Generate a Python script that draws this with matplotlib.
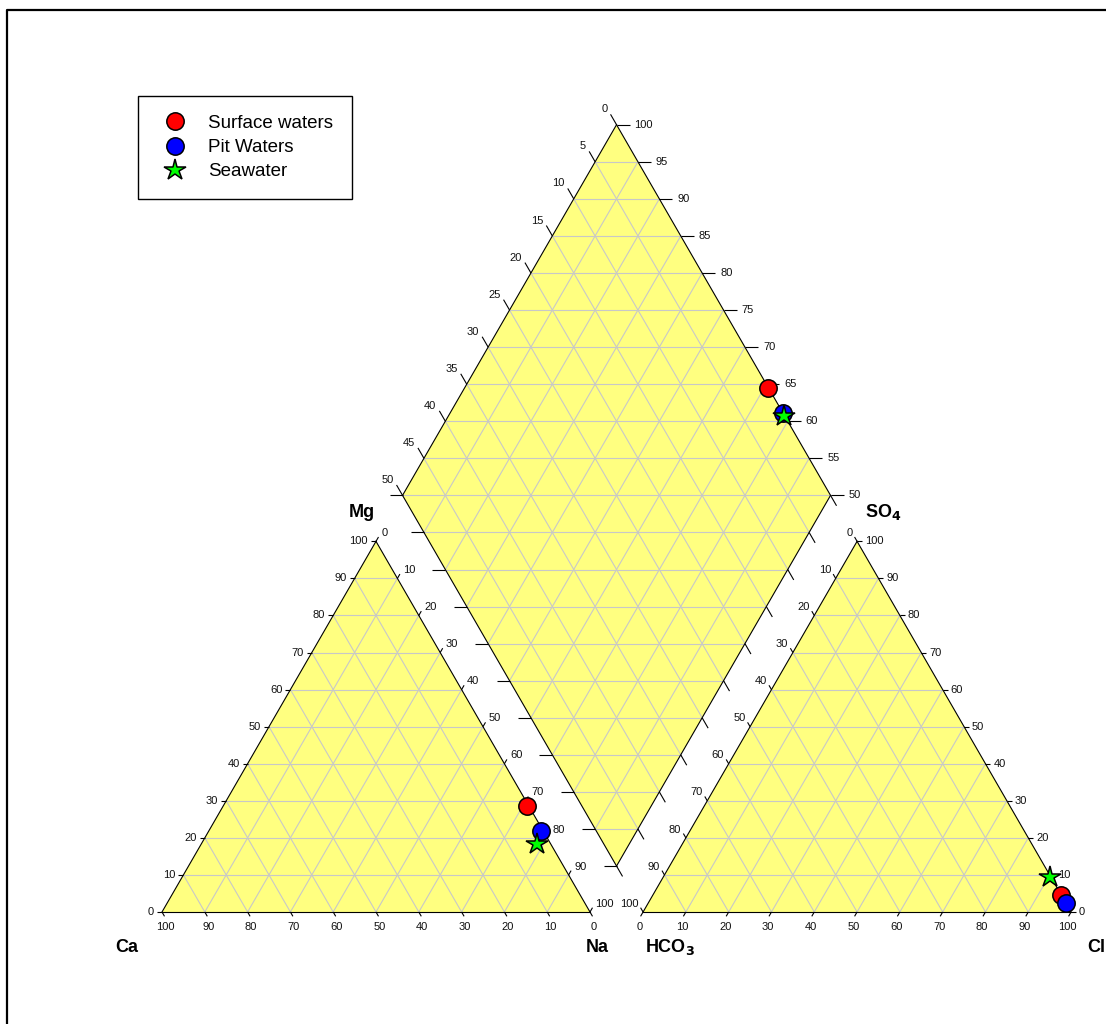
import numpy as np
import matplotlib.pyplot as plt
from matplotlib.patches import Polygon

plt.rcParams['font.family'] = ['Liberation Sans', 'DejaVu Sans']

# sample compositions (% of meq)
samples = ['Surface waters', 'Pit Waters', 'Seawater']
ca = [0.5, 0.5, 3.2]
mg = [28.6, 21.8, 18.3]
na = [70.9, 77.7, 78.5]
hco3 = [0.0, 0.0, 0.2]
so4 = [4.6, 2.5, 9.5]
cl = [95.4, 97.5, 90.3]
face = ['#ff0000', '#0000ff', '#00ff00']
marks = ['o', 'o', '*']
msize = [12.5, 12.5, 16]

tri_ticks = list(range(0, 101, 10))
dia_left_ticks = list(range(0, 51, 5))
dia_right_ticks = list(range(100, 49, -5))

H = np.sqrt(3) / 2
GAP = 0.124
PX = 1 / 428.0      # one pixel in data units
XR = 1 + GAP         # left corner of anion triangle

YELLOW = '#ffff80'
GRID = '#c8c8c8'


def cation_xy(m, n):
    return n / 100 + m / 200, m / 100 * H


def anion_xy(s, c):
    return XR + c / 100 + s / 200, s / 100 * H


def diamond_xy(a, b):
    x0, y0 = 1 + GAP / 2, GAP * H
    return x0 + (b - a) / 2, y0 + (a + b) * H


fig = plt.figure(figsize=(11.06, 10.24), dpi=100)
ax = fig.add_axes([0, 0, 1, 1])
ax.set_xlim(-162 * PX, (1106 - 162) * PX)
ax.set_ylim(-112 * PX, 912 * PX)
ax.axis('off')

# frame (left and top only, as in the screenshot)
fr = fig.add_axes([0, 0, 1, 1], facecolor='none')
fr.set_xlim(0, 1106)
fr.set_ylim(1024, 0)
fr.axis('off')
fr.plot([7, 7, 1106], [1024, 10, 10], color='black', lw=1.6)


def line(p, q, **kw):
    ax.plot([p[0], q[0]], [p[1], q[1]], **kw)


def grid_line(p, q):
    line(p, q, color=GRID, lw=0.8, zorder=2)


def edge(p, q):
    line(p, q, color='black', lw=0.8, zorder=3)


def tick(p, d, n_px):
    q = (p[0] + d[0] * n_px * PX, p[1] + d[1] * n_px * PX)
    line(p, q, color='black', lw=0.8, zorder=3, solid_capstyle='butt')
    return q


def label(p, dx, dy, s, ha, va='center'):
    ax.text(p[0] + dx * PX, p[1] + dy * PX, s, ha=ha, va=va, fontsize=8,
            color='#111111')


HL, HR = (-1, 0), (1, 0)
UL, UR = (-0.5, H), (0.5, H)
DL, DR = (-0.5, -H), (0.5, -H)

# triangles
for x0 in (0, XR):
    ax.add_patch(Polygon([(x0, 0), (x0 + 1, 0), (x0 + 0.5, H)],
                         facecolor=YELLOW, edgecolor='none', zorder=1))
    for k in range(1, 10):
        t = k / 10
        grid_line((x0 + t / 2, t * H), (x0 + 1 - t / 2, t * H))
        grid_line((x0 + t, 0), (x0 + t + (1 - t) / 2, (1 - t) * H))
        grid_line((x0 + t, 0), (x0 + t / 2, t * H))
    edge((x0, 0), (x0 + 1, 0))
    edge((x0, 0), (x0 + 0.5, H))
    edge((x0 + 1, 0), (x0 + 0.5, H))

# diamond
ax.add_patch(Polygon([diamond_xy(0, 0), diamond_xy(1, 0), diamond_xy(1, 1),
                      diamond_xy(0, 1)], facecolor=YELLOW, edgecolor='none',
                     zorder=1))
for k in range(1, 10):
    t = k / 10
    grid_line(diamond_xy(t, 0), diamond_xy(t, 1))
    grid_line(diamond_xy(0, t), diamond_xy(1, t))
for k in range(1, 20):
    s = k / 10
    if s <= 1:
        grid_line(diamond_xy(s, 0), diamond_xy(0, s))
    else:
        grid_line(diamond_xy(1, s - 1), diamond_xy(s - 1, 1))
edge(diamond_xy(0, 0), diamond_xy(1, 0))
edge(diamond_xy(1, 0), diamond_xy(1, 1))
edge(diamond_xy(1, 1), diamond_xy(0, 1))
edge(diamond_xy(0, 1), diamond_xy(0, 0))

# cation triangle ticks
for v in tri_ticks:
    t = v / 100
    q = tick((1 - t, 0), DR, 5)
    label(q, 1, -11, str(v), 'center')
    q = tick((t / 2, t * H), HL, 5)
    label(q, -3, 0, str(v), 'right')
    q = tick((0.5 + t / 2, (1 - t) * H), UR, 5)
    label(q, 3, 4, str(v), 'left')

# anion triangle ticks
for v in tri_ticks:
    t = v / 100
    q = tick((XR + t, 0), DL, 5)
    label(q, -1, -11, str(v), 'center')
    q = tick((XR + 1 - t / 2, t * H), HR, 5)
    label(q, 3, 0, str(v), 'left')
    q = tick((XR + 0.5 - t / 2, (1 - t) * H), UL, 5)
    label(q, -2, 4, str(v), 'right')

# diamond ticks
for v in dia_left_ticks:
    q = tick(diamond_xy(1, 1 - v / 50), UL, 12)
    label(q, -3, 5, str(v), 'right')
for v in dia_right_ticks:
    q = tick(diamond_xy((v - 50) / 50, 1), HR, 13)
    label(q, 5, 0, str(v), 'left')
for k in range(11):
    tick(diamond_xy(k / 10, 0), HL, 13)
    tick(diamond_xy(0, k / 10), DR, 12)

# axis titles
bold = dict(fontsize=13, fontweight='bold', va='center')
ax.text(-35 * PX, -35 * PX, 'Ca', ha='center', **bold)
ax.text(1 + 7 * PX, -35 * PX, 'Na', ha='center', **bold)
ax.text(0.5 - 14 * PX, H + 29 * PX, 'Mg', ha='center', **bold)
ax.text(XR + 27 * PX, -35 * PX, 'HCO$_\\mathbf{3}$', ha='center', **bold)
ax.text(XR + 1 + 34 * PX, -35 * PX, 'Cl', ha='right', **bold)
ax.text(XR + 0.5 + 26 * PX, H + 29 * PX, 'SO$_\\mathbf{4}$', ha='center', **bold)

# samples
handles = []
for i, name in enumerate(samples):
    a = (ca[i] + mg[i]) / 100
    b = (so4[i] + cl[i]) / 100
    pts = [cation_xy(mg[i], na[i]), anion_xy(so4[i], cl[i]), diamond_xy(a, b)]
    xs = [p[0] for p in pts]
    ys = [p[1] for p in pts]
    h, = ax.plot(xs, ys, linestyle='none', marker=marks[i], ms=msize[i],
                 mfc=face[i], mec='black', mew=1.1, zorder=5, label=name)
    handles.append(h)

leg = fig.legend(handles=handles, loc='upper left',
                 bbox_to_anchor=(138 / 1106, 1 - 96 / 1024), borderaxespad=0,
                 fontsize=13.5, frameon=True, fancybox=False, framealpha=1,
                 edgecolor='black', borderpad=1.0, labelspacing=0.38,
                 handlelength=1.95, handletextpad=0.8)
leg.get_frame().set_linewidth(1.0)

fig.savefig('out.png', dpi=100)
